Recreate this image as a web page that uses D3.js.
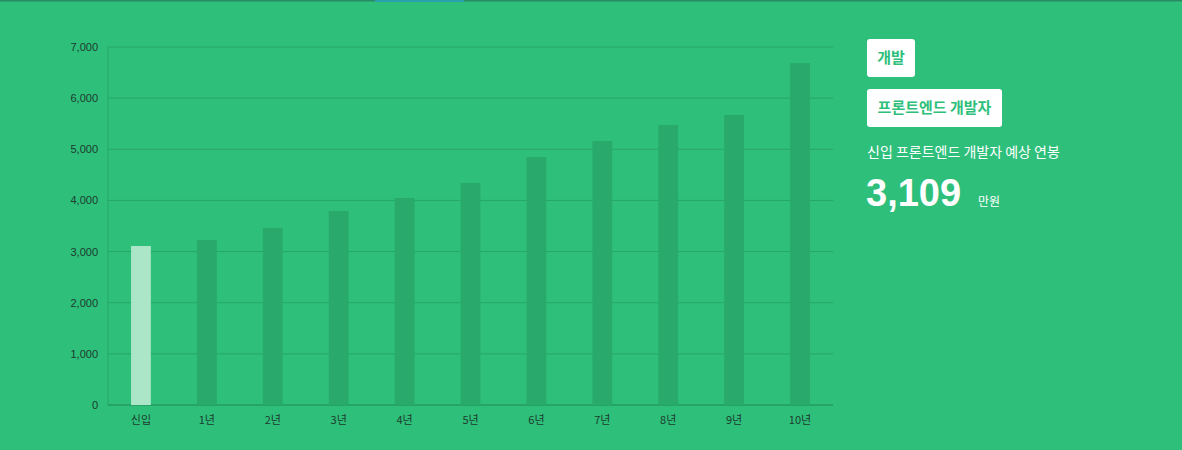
<!DOCTYPE html>
<html><head><meta charset="utf-8">
<script src="https://cdn.jsdelivr.net/npm/d3@7"></script>
<style>
body{margin:0;background:#2ebf7b;font-family:"Noto Sans CJK KR","Noto Sans",sans-serif;}
svg{display:block}
</style></head><body>
<svg id="c" width="1182" height="450"></svg>
<script>
const categories=["신입","1년","2년","3년","4년","5년","6년","7년","8년","9년","10년"];
const salaries=[3109,3226,3461,3793,4048,4341,4849,5162,5475,5671,6687];
const yTicks=[0,1000,2000,3000,4000,5000,6000,7000];
const tags=["개발","프론트엔드 개발자"];
const title="신입 프론트엔드 개발자 예상 연봉";
const svg=d3.select("#c");
svg.append("rect").attr("width",1182).attr("height",450).attr("fill","#2ebf7b");
svg.append("rect").attr("width",1182).attr("height",1.5).attr("fill","#2a8a66");
svg.append("rect").attr("x",375).attr("width",89).attr("height",2).attr("fill","#2a9fb0");
const x=d3.scaleBand().domain(categories).range([108,833]).paddingInner(0.7).paddingOuter(0.35);
const y=d3.scaleLinear().domain([0,7000]).range([405,47]);
const g=svg.append("g");
g.selectAll("line.grid").data(yTicks).join("line").attr("x1",108).attr("x2",833)
 .attr("y1",d=>y(d)).attr("y2",d=>y(d)).attr("stroke","#27a668").attr("stroke-width",1);
g.append("line").attr("x1",108).attr("x2",108).attr("y1",47).attr("y2",405).attr("stroke","#27a668");
g.append("line").attr("x1",108).attr("x2",833).attr("y1",405).attr("y2",405).attr("stroke","#23955e");
g.selectAll("text.yl").data(yTicks).join("text").attr("x",98).attr("y",d=>y(d)+4)
 .attr("text-anchor","end").attr("font-size",11).attr("fill","#1d3b2c").attr("font-family","Liberation Sans, Arial").text(d=>d3.format(",")(d));
g.selectAll("rect.bar").data(salaries).join("rect")
 .attr("x",(d,i)=>x(categories[i])).attr("width",x.bandwidth())
 .attr("y",d=>y(d)).attr("height",d=>405-y(d))
 .attr("fill",(d,i)=>i===0?"#ace6c8":"#2aa96c");
g.selectAll("text.xl").data(categories).join("text").attr("x",d=>x(d)+x.bandwidth()/2).attr("y",424)
 .attr("text-anchor","middle").attr("font-size",11).attr("fill","#1d3b2c").text(d=>d);
const t1w=[48,135];
const tagY=[39,89];
tags.forEach((t,i)=>{
 svg.append("rect").attr("x",867).attr("y",tagY[i]).attr("width",t1w[i]).attr("height",38).attr("rx",3).attr("fill","#fff");
 svg.append("text").attr("x",867+t1w[i]/2).attr("y",tagY[i]+24).attr("text-anchor","middle")
  .attr("font-size",15).attr("font-weight","bold").attr("fill","#2ebf7b").text(t);
});
svg.append("text").attr("x",867).attr("y",157).attr("font-size",14).attr("font-weight","normal").attr("fill","#fff").text(title);
svg.append("text").attr("x",866).attr("y",206).attr("font-size",38).attr("font-weight","bold").attr("fill","#fff")
 .attr("font-family","Liberation Sans, Arial").text(d3.format(",")(salaries[0]));
svg.append("text").attr("x",978).attr("y",206).attr("font-size",12).attr("fill","#fff").text("만원");
</script></body></html>
